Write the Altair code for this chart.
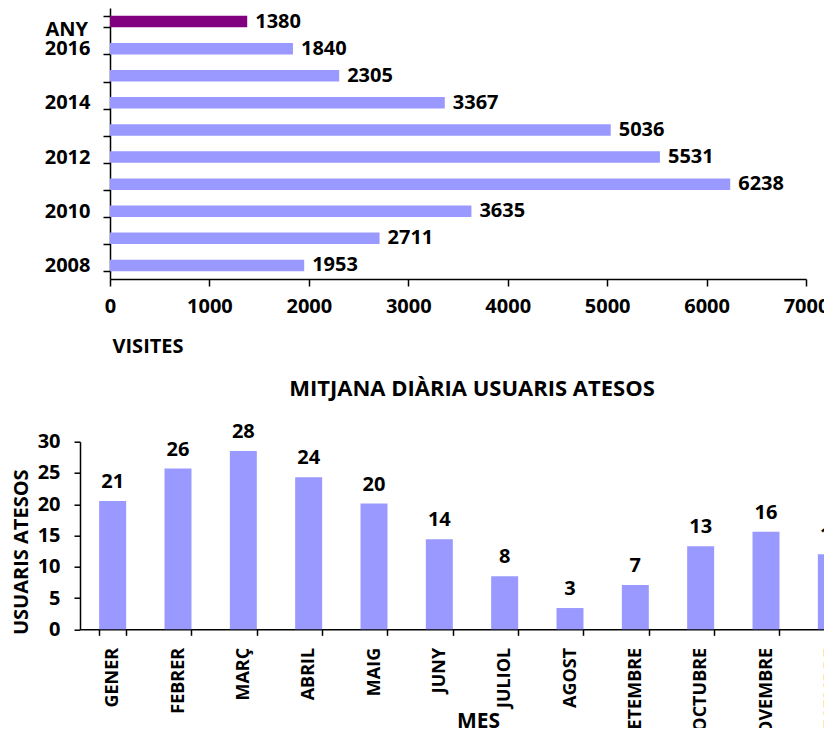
import altair as alt
import pandas as pd

# ---- data ----
years = ["2017", "2016", "2015", "2014", "2013", "2012", "2011", "2010", "2009", "2008"]
visits = [1380, 1840, 2305, 3367, 5036, 5531, 6238, 3635, 2711, 1953]
visit_ticks = [0, 1000, 2000, 3000, 4000, 5000, 6000, 7000]

months = ["GENER", "FEBRER", "MARÇ", "ABRIL", "MAIG", "JUNY", "JULIOL",
          "AGOST", "SETEMBRE", "OCTUBRE", "NOVEMBRE", "DESEMBRE"]
daily_users = [20.5, 25.7, 28.5, 24.3, 20.1, 14.4, 8.5, 3.4, 7.1, 13.3, 15.6, 12.0]
daily_labels = ["21", "26", "28", "24", "20", "14", "8", "3", "7", "13", "16", "12"]
user_ticks = [0, 5, 10, 15, 20, 25, 30]

FONT = "Open Sans"
BAR = "#9999FF"
HIGHLIGHT = "#800080"

top_df = pd.DataFrame({"ANY": years, "VISITES": visits})
bot_df = pd.DataFrame({"MES": months, "USUARIS": daily_users, "ETIQUETA": daily_labels})

# ---- top: visits per year ----
top_base = alt.Chart(top_df).encode(
    y=alt.Y(
        "ANY:N",
        sort=years,
        scale=alt.Scale(paddingInner=0.575, paddingOuter=0.2875),
        axis=alt.Axis(
            title="ANY", titleAngle=0, titleX=-65, titleY=27,
            titleAlign="left", titleBaseline="alphabetic",
            labelExpr="toNumber(datum.value) % 2 == 0 ? datum.label : ''",
            tickBand="extent", tickSize=7, labelPadding=13, offset=-30,
        ),
    ),
    x=alt.X(
        "VISITES:Q",
        scale=alt.Scale(domain=[0, 7000], range=[30, 726], nice=False),
        axis=alt.Axis(
            values=visit_ticks, format="d", grid=False, tickSize=7,
            labelPadding=10, labelFlush=False,
            title="VISITES", titleX=32, titleY=73,
            titleAlign="left", titleBaseline="alphabetic",
        ),
    ),
)
top_bars = top_base.mark_bar().encode(
    color=alt.condition(alt.datum.ANY == years[0], alt.value(HIGHLIGHT), alt.value(BAR))
)
top_text = top_base.mark_text(
    align="left", baseline="middle", dx=8, font=FONT, fontSize=20,
    fontWeight="bold", color="black",
).encode(text=alt.Text("VISITES:Q", format="d"))
top = (top_bars + top_text).properties(width=726, height=271)

# ---- bottom: daily users per month ----
bot_base = alt.Chart(bot_df).encode(
    x=alt.X(
        "MES:N",
        sort=months,
        scale=alt.Scale(paddingInner=0.587, paddingOuter=0.2935),
        axis=alt.Axis(
            labelAngle=270, labelFontSize=18, tickBand="extent", tickSize=6,
            labelPadding=12, title="MES", titleX=398, titleY=98,
            titleAlign="center", titleBaseline="alphabetic", titleFontSize=21,
        ),
    ),
    y=alt.Y(
        "USUARIS:Q",
        scale=alt.Scale(domain=[0, 30], nice=False),
        axis=alt.Axis(
            values=user_ticks, grid=False, tickSize=6, labelPadding=14,
            title="USUARIS ATESOS", titleAngle=270, titleX=-59, titleY=110,
            titleAlign="center", titleBaseline="middle",
        ),
    ),
)
bot_bars = bot_base.mark_bar(color=BAR)
bot_text = bot_base.mark_text(
    baseline="alphabetic", dy=-13, font=FONT, fontSize=20,
    fontWeight="bold", color="black",
).encode(text="ETIQUETA:N")
bottom = (bot_bars + bot_text).properties(
    width=784, height=187.6,
    title=alt.TitleParams(
        "MITJANA DIÀRIA USUARIS ATESOS", frame="group", anchor="middle",
        baseline="alphabetic", offset=4, font=FONT, fontSize=22,
        fontWeight="bold", color="black",
    ),
)

chart = alt.vconcat(top, bottom, spacing=162.7, bounds="flush").properties(
    autosize=alt.AutoSizeParams(type="none"),
    padding={"left": 72, "top": 0, "right": 744, "bottom": 720},
).configure_view(stroke=None).configure_axis(
    labelFont=FONT, labelFontSize=20, labelFontWeight="bold", labelColor="black",
    titleFont=FONT, titleFontSize=20, titleFontWeight="bold", titleColor="black",
    domainColor="black", domainWidth=1.5, tickColor="black", tickWidth=1.5,
)

chart.save("out.html", embed_options={"renderer": "svg", "actions": False})
